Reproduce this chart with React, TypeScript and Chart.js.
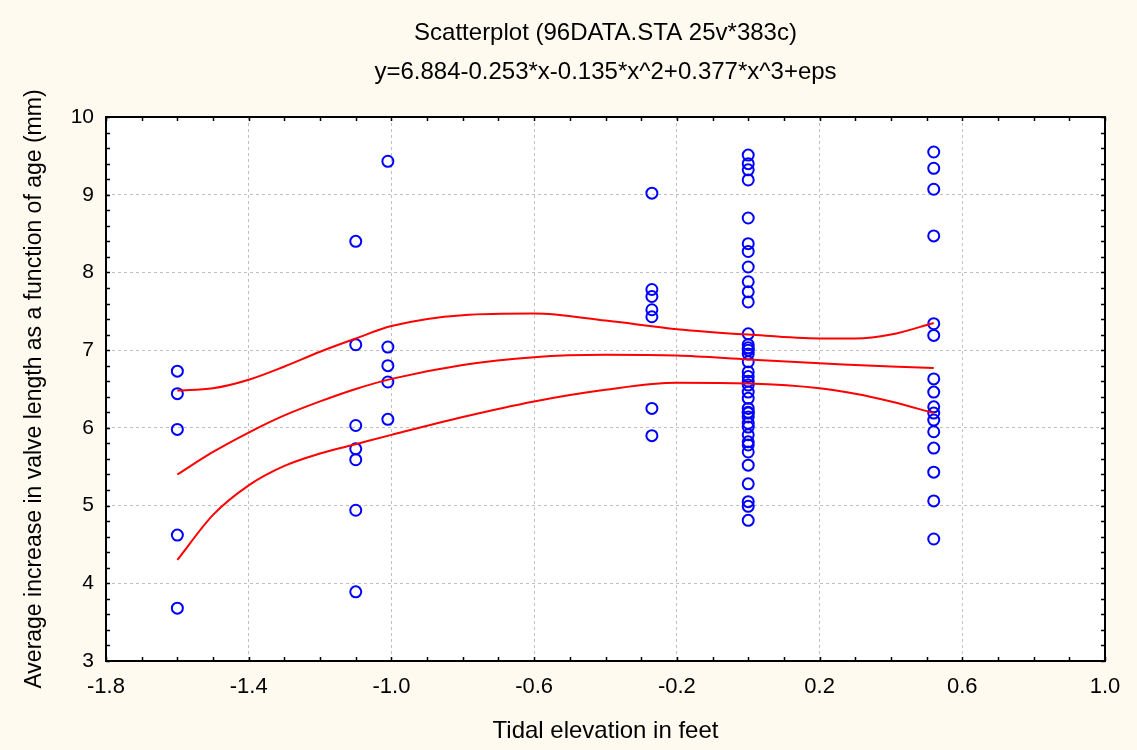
import React, { useEffect, useRef } from "react";
import { Chart, registerables } from "chart.js";

Chart.register(...registerables);

const titleText = "Scatterplot (96DATA.STA 25v*383c)";
const subtitleText = "y=6.884-0.253*x-0.135*x^2+0.377*x^3+eps";
const xAxisTitle = "Tidal elevation in feet";
const yAxisTitle = "Average increase in valve length as a function of age (mm)";

const xTicks = [-1.8, -1.4, -1.0, -0.6, -0.2, 0.2, 0.6, 1.0];
const yTicks = [3, 4, 5, 6, 7, 8, 9, 10];

// observed points grouped by tidal elevation
const groupX = [-1.6, -1.1, -1.01, -0.27, 0.0, 0.52];
const valsA = [6.73, 6.44, 5.98, 4.62, 3.68];
const valsB = [8.40, 7.07, 6.03, 5.73, 5.59, 4.94, 3.89];
const valsC = [9.43, 7.04, 6.80, 6.59, 6.11];
const valsD = [9.02, 7.78, 7.69, 7.52, 7.43, 6.25, 5.90];
const valsE = [
  9.51, 9.40, 9.32, 9.19, 8.70, 8.37, 8.27, 8.07, 7.88, 7.75, 7.62, 7.21, 7.07, 7.03,
  7.00, 6.95, 6.85, 6.72, 6.66, 6.60, 6.55, 6.46, 6.38, 6.25, 6.20, 6.19, 6.14, 6.06,
  6.01, 5.91, 5.82, 5.78, 5.69, 5.52, 5.28, 5.05, 4.99, 4.81,
];
const valsF = [9.55, 9.34, 9.07, 8.47, 7.34, 7.19, 6.63, 6.46, 6.27, 6.19, 6.10, 5.95, 5.74, 5.43, 5.06, 4.57];
const groupVals = [valsA, valsB, valsC, valsD, valsE, valsF];

// fitted curve and confidence bands
const curveX = [-1.6, -1.5, -1.4, -1.3, -1.2, -1.1, -1.0, -0.8, -0.6, -0.4, -0.2, 0.0, 0.2, 0.3, 0.4, 0.52];
const fitY = [5.40, 5.69, 5.94, 6.16, 6.34, 6.50, 6.63, 6.81, 6.91, 6.94, 6.93, 6.88, 6.83, 6.81, 6.79, 6.77];
const upperY = [6.48, 6.51, 6.62, 6.79, 6.98, 7.15, 7.31, 7.45, 7.47, 7.38, 7.27, 7.20, 7.15, 7.15, 7.20, 7.35];
const lowerY = [4.30, 4.88, 5.26, 5.51, 5.67, 5.79, 5.91, 6.14, 6.34, 6.49, 6.58, 6.57, 6.51, 6.44, 6.34, 6.19];

const FONT = "'Liberation Sans', Arial, sans-serif";
const BG = "#fefaf0";

const framePlugin = {
  id: "frameAndTicks",
  beforeDraw(chart: any) {
    const { ctx, chartArea } = chart;
    ctx.save();
    ctx.fillStyle = BG;
    ctx.fillRect(0, 0, chart.width, chart.height);
    ctx.fillStyle = "#ffffff";
    ctx.fillRect(chartArea.left, chartArea.top, chartArea.right - chartArea.left, chartArea.bottom - chartArea.top);
    ctx.restore();
  },
  afterDraw(chart: any) {
    const { ctx, chartArea } = chart;
    const xs = chart.scales.x;
    const ys = chart.scales.y;
    const { left, right, top, bottom } = chartArea;
    ctx.save();
    ctx.strokeStyle = "#000000";
    ctx.lineWidth = 1.5;
    const len = 4;
    ctx.beginPath();
    for (let i = 0; i <= 28; i++) {
      const v = xs.min + i * 0.1;
      const px = Math.round(xs.getPixelForValue(v)) + 0.5;
      ctx.moveTo(px, bottom);
      ctx.lineTo(px, bottom - len);
      ctx.moveTo(px, top);
      ctx.lineTo(px, top + len);
    }
    for (let i = 0; i <= 35; i++) {
      const v = ys.min + i * 0.2;
      const py = Math.round(ys.getPixelForValue(v)) + 0.5;
      ctx.moveTo(left, py);
      ctx.lineTo(left + len, py);
      ctx.moveTo(right, py);
      ctx.lineTo(right - len, py);
    }
    ctx.stroke();
    ctx.lineWidth = 2;
    ctx.strokeRect(left, top, right - left, bottom - top);
    ctx.restore();
  },
};

export default function App() {
  const ref = useRef<HTMLCanvasElement | null>(null);
  useEffect(() => {
    if (!ref.current) return;
    const pointSets = groupX.map((gx, i) => ({
      type: "scatter" as const,
      label: "obs" + i,
      data: groupVals[i].map((v) => ({ x: gx, y: v })),
      showLine: false,
      pointStyle: "circle",
      pointRadius: 5.5,
      pointBorderWidth: 2,
      borderColor: "#0000ff",
      backgroundColor: "rgba(0,0,0,0)",
      order: 2,
    }));
    const lineSet = (ys: number[], name: string) => ({
      type: "line" as const,
      label: name,
      data: curveX.map((x, i) => ({ x, y: ys[i] })),
      borderColor: "#ff0000",
      borderWidth: 2,
      pointRadius: 0,
      cubicInterpolationMode: "monotone" as const,
      fill: false,
      order: 1,
    });
    const chart = new Chart(ref.current, {
      type: "scatter",
      data: {
        datasets: [lineSet(upperY, "upper"), lineSet(fitY, "fit"), lineSet(lowerY, "lower"), ...pointSets] as any,
      },
      plugins: [framePlugin],
      options: {
        animation: false,
        responsive: false,
        layout: { padding: { left: 0, right: 32, top: 0, bottom: 0 } },
        plugins: {
          legend: { display: false },
          tooltip: { enabled: false },
          title: {
            display: true,
            fullSize: false,
            text: titleText,
            color: "#000",
            font: { family: FONT, size: 24, weight: "normal" },
            padding: { top: 18.6, bottom: 0 },
          },
          subtitle: {
            display: true,
            fullSize: false,
            text: subtitleText,
            color: "#000",
            font: { family: FONT, size: 24, weight: "normal" },
            padding: { top: 10.2, bottom: 30.6 },
          },
        },
        scales: {
          x: {
            type: "linear",
            min: -1.8,
            max: 1.0,
            afterBuildTicks: (s: any) => {
              s.ticks = xTicks.map((v) => ({ value: v }));
            },
            afterFit: (s: any) => {
              s.height = 89;
            },
            ticks: {
              color: "#000",
              font: { family: FONT, size: 22 },
              padding: 13,
              maxRotation: 0,
              autoSkip: false,
              callback: (v: any) => Number(v).toFixed(1),
            },
            grid: { color: "#c0c0c0", lineWidth: 1, drawTicks: false },
            border: { display: false, dash: [3, 3] },
            title: {
              display: true,
              text: xAxisTitle,
              color: "#000",
              font: { family: FONT, size: 24 },
              padding: { top: 0, bottom: 4.6 },
            },
          },
          y: {
            type: "linear",
            min: 3,
            max: 10,
            afterBuildTicks: (s: any) => {
              s.ticks = yTicks.map((v) => ({ value: v }));
            },
            afterFit: (s: any) => {
              s.width = 106;
            },
            ticks: {
              color: "#000",
              font: { family: FONT, size: 21 },
              padding: 12,
              autoSkip: false,
              callback: (v: any) => String(v),
            },
            grid: { color: "#c0c0c0", lineWidth: 1, drawTicks: false },
            border: { display: false, dash: [3, 3] },
            title: {
              display: true,
              text: yAxisTitle,
              color: "#000",
              font: { family: FONT, size: 23 },
              padding: { top: 21.2, bottom: 0 },
            },
          },
        },
      } as any,
    });
    return () => chart.destroy();
  }, []);
  return (
    <div style={{ position: "absolute", left: 0, top: 0, width: 1137, height: 750, background: BG }}>
      <canvas ref={ref} width={1137} height={750} style={{ display: "block" }} />
    </div>
  );
}
